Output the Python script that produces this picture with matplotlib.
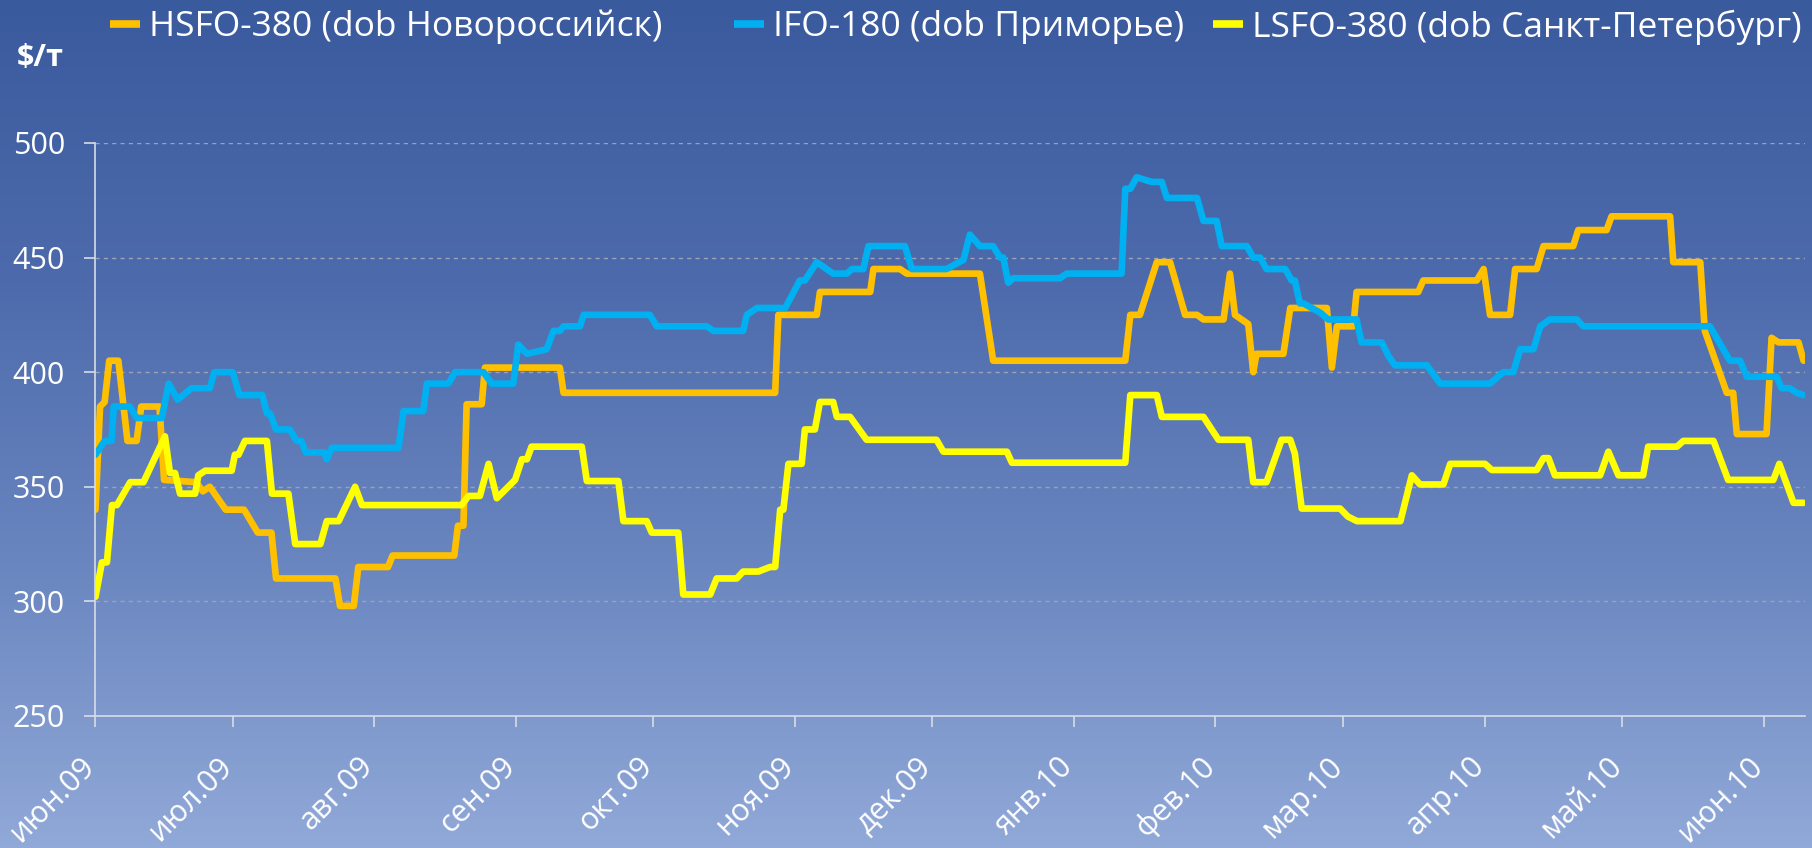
import numpy as np
import pandas as pd
import matplotlib
matplotlib.use("Agg")
import matplotlib.pyplot as plt
from matplotlib.colors import LinearSegmentedColormap
from matplotlib.transforms import ScaledTranslation

plt.rcParams['font.family'] = ['Open Sans', 'DejaVu Sans']

# x values are days counted from 1 June 2009
start = pd.Timestamp("2009-06-01")

hsfo_day = [0, 1, 2, 3, 5, 7, 9, 10, 14, 15, 22, 23.5, 25, 28.5, 32.5, 35.5, 38.5, 39.5,
            52.5, 53.5, 56.5, 57.5, 64, 65, 78.5, 79.3, 80.5, 81.2, 84.5, 85.2, 101.6, 102.4,
            148.7, 149.4, 157.8, 158.5, 169.5, 170.2, 176, 177.5, 193.5, 196.4, 225.3, 226.4,
            228.5, 232.2, 235.1, 238.4, 241, 242.4, 246.8, 248.2, 249.3, 252.2, 253.3, 254,
            259.9, 261.4, 269.4, 270.5, 271.6, 275.2, 275.9, 289.4, 290.5, 302.2, 303.7, 305.1,
            309.5, 310.6, 315.3, 316.8, 323.3, 324.4, 330.6, 331.7, 344.5, 345.2, 351.1, 352.1,
            356.9, 358.3, 359.1, 365.6, 366.7, 368.2, 372.6, 373.7]
hsfo_val = [340, 385, 387, 405, 405, 370, 370, 385, 385, 353, 352, 348, 350, 340, 340, 330, 330, 310,
            310, 298, 298, 315, 315, 320, 320, 333, 333, 386, 386, 402, 402, 391,
            391, 425, 425, 435, 435, 445, 445, 443, 443, 405, 405, 425,
            425, 448, 448, 425, 425, 423, 423, 443, 425, 421, 400, 408,
            408, 428, 428, 402, 420, 420, 435, 435, 440, 440, 445, 425,
            425, 445, 445, 455, 455, 462, 462, 468, 468, 448, 448, 418,
            391, 391, 373, 373, 415, 413, 413, 405]

ifo_day = [0, 2, 3.5, 4, 7.5, 9, 14.5, 16, 18, 21, 25, 26, 30, 31.5, 36.5, 37.5, 38.2, 39.5, 42.5,
           44, 45, 46, 50, 50.6, 51.7, 66.3, 67.4, 71.7, 72.5, 77.2, 78.7, 84.9, 86.7, 91.4, 92.5,
           94.4, 98.7, 100.2, 101.6, 102.4, 106, 106.8, 121.3, 122.8, 133.7, 135.2, 141.7, 142.5,
           144.7, 150.9, 154.1, 155.2, 157.8, 161.4, 164.4, 165.5, 168, 169.1, 177.1, 178.6, 186.2,
           189.9, 191.3, 193.5, 196.4, 197.9, 198.6, 199.7, 200.8, 211, 212.5, 224.5, 225.3, 226.4,
           227.8, 231.1, 233.3, 234.4, 241, 242.4, 245.3, 246.4, 251.9, 253.3, 254.8, 256.2, 260.3,
           261.7, 262.4, 263.5, 264.3, 267.9, 269.7, 275.9, 277, 281.4, 282.9, 284.3, 291.3, 294.2,
           305.1, 308, 310.2, 311.7, 314.6, 316.1, 318.2, 324.1, 325.5, 353.2, 357.6, 359.8, 361.3,
           367.8, 368.9, 370.7, 372.2, 373.7]
ifo_val = [364, 370, 370, 385, 385, 380, 380, 395, 388, 393, 393, 400, 400, 390, 390, 382, 382, 375, 375,
           370, 370, 365, 365, 362, 367, 367, 383, 383, 395, 395, 400, 400, 395, 395, 412,
           408, 410, 418, 418, 420, 420, 425, 425, 420, 420, 418, 418, 425,
           428, 428, 440, 440, 448, 443, 443, 445, 445, 455, 455, 445, 445,
           449, 460, 455, 455, 450, 450, 439, 441, 441, 443, 443, 480, 480,
           485, 483, 483, 476, 476, 466, 466, 455, 455, 450, 450, 445, 445,
           440, 440, 430, 430, 426, 423, 423, 413, 413, 407, 403, 403, 395,
           395, 400, 400, 410, 410, 420, 423, 423, 420, 420, 405, 405, 398,
           398, 393, 393, 391, 390]

lsfo_day = [0, 1.4, 2.5, 3.6, 4.7, 7.6, 10.5, 15.2, 16.3, 17.4, 18.5, 21.8, 22.5, 24, 29.8, 30.5,
            31.3, 32.7, 37.5, 38.6, 42.2, 43.7, 49.2, 50.6, 53.2, 56.8, 58.3, 80.1, 81.6, 84.1, 86,
            87.8, 91.8, 93.3, 94.4, 95.4, 106.4, 107.5, 114.4, 115.5, 120.6, 121.7, 127.5, 128.6,
            134.5, 135.9, 140.3, 141.7, 145, 147.6, 148.7, 149.8, 150.5, 151.6, 154.5, 155.2, 157.4,
            158.5, 161.4, 162.2, 165.1, 168.7, 184, 185.5, 199.4, 200.5, 225.3, 226.4, 232.2, 233.3,
            242.4, 245.7, 252.2, 253.3, 256.2, 259.5, 261.4, 262.4, 263.9, 272.3, 274, 276, 285.5,
            288, 289.8, 294.9, 296.4, 304, 305.5, 315.3, 316.8, 317.9, 319.3, 329.2, 331, 333.2,
            338.6, 339.7, 346, 347.4, 354, 357.2, 367.1, 368.4, 371.5, 373.7]
lsfo_val = [302, 317, 317, 342, 342, 352, 352, 372, 356, 356, 347, 347, 355, 357, 357, 364,
            364, 370, 370, 347, 347, 325, 325, 335, 335, 350, 342, 342, 346, 346, 360,
            345, 353, 362, 362, 367.5, 367.5, 352.5, 352.5, 335, 335, 330, 330, 303,
            303, 310, 310, 313, 313, 315, 315, 340, 340, 360, 360, 375, 375,
            387, 387, 380.5, 380.5, 370.5, 370.5, 365.3, 365.3, 360.5, 360.5, 390, 390, 380.5,
            380.5, 370.5, 370.5, 352, 352, 370.5, 370.5, 364.5, 340.5, 340.5, 337, 335, 335,
            355, 351, 351, 360, 360, 357.3, 357.3, 362.5, 362.5, 355, 355, 365.3, 355,
            355, 367.5, 367.5, 370, 370, 353, 353, 360, 343, 343]

series_names = ["HSFO-380 (dob Новороссийск)", "IFO-180 (dob Приморье)",
                "LSFO-380 (dob Санкт-Петербург)"]
series_colors = ["#FFC000", "#00B0F0", "#FFFF00"]

month_ticks = pd.date_range("2009-06-01", "2010-06-01", freq="MS")
month_labels = ["июн.09", "июл.09", "авг.09", "сен.09", "окт.09", "ноя.09", "дек.09",
                "янв.10", "фев.10", "мар.10", "апр.10", "май.10", "июн.10"]
y_ticks = [250, 300, 350, 400, 450, 500]


def to_dates(days):
    return start + pd.to_timedelta(np.array(days, dtype=float), unit="D")


fig = plt.figure(figsize=(18.12, 8.48), dpi=100)

# gradient background
bg = fig.add_axes([0, 0, 1, 1], zorder=-10)
cmap = LinearSegmentedColormap.from_list("bg", ["#3A5A9E", "#4D6BAC", "#6A86C0", "#91A9D8"])
bg.imshow(np.linspace(0, 1, 256).reshape(-1, 1), aspect="auto", cmap=cmap,
          extent=[0, 1, 0, 1])
bg.set_axis_off()

ax = fig.add_axes([0.0527, 0.1557, 0.9434, 0.6757])
ax.patch.set_alpha(0)

days_list = [hsfo_day, ifo_day, lsfo_day]
vals_list = [hsfo_val, ifo_val, lsfo_val]
lines = []
for d, v, c, n in zip(days_list, vals_list, series_colors, series_names):
    ln, = ax.plot(to_dates(d), v, color=c, lw=4.8, label=n, solid_joinstyle="round",
                  solid_capstyle="round")
    lines.append(ln)

ax.set_xlim(start, start + pd.Timedelta(days=374))
ax.set_ylim(250, 500)

ax.set_yticks(y_ticks)
ax.yaxis.grid(True, color="#9AA3B5", lw=1, linestyle=(0, (3, 3)))
ax.set_axisbelow(True)

ax.set_xticks(month_ticks)
ax.set_xticklabels(month_labels)

for s in ["top", "right"]:
    ax.spines[s].set_visible(False)
for s in ["left", "bottom"]:
    ax.spines[s].set_color("#D8DCE6")
    ax.spines[s].set_linewidth(1.2)

ax.tick_params(axis="both", colors="#D8DCE6", length=8, width=1.2, direction="out")
ax.tick_params(axis="y", labelcolor="white", labelsize=22, pad=14)
ax.tick_params(axis="x", labelcolor="white", labelsize=22, pad=25)

offset = ScaledTranslation(-0.05, 0, fig.dpi_scale_trans)
for lab in ax.get_xticklabels():
    lab.set_rotation(45)
    lab.set_ha("right")
    lab.set_va("center")
    lab.set_rotation_mode("anchor")
    lab.set_transform(lab.get_transform() + offset)

fig.text(0.0094, 0.932, "$/т", color="white", fontsize=22, fontweight="bold",
         ha="left", va="center")

# one legend entry per series, placed like the original
legend_x = [0.0607, 0.4051, 0.6694]
for ln, x0 in zip(lines, legend_x):
    leg = fig.legend(handles=[ln], loc="center left", bbox_to_anchor=(x0, 0.968),
                     frameon=False, fontsize=25.5, handlelength=0.85, handletextpad=0.25,
                     borderaxespad=0, borderpad=0)
    for t in leg.get_texts():
        t.set_color("white")
    for h in leg.legend_handles:
        h.set_linewidth(5.5)
        h.set_solid_capstyle("butt")

plt.savefig("out.png", dpi=100)
